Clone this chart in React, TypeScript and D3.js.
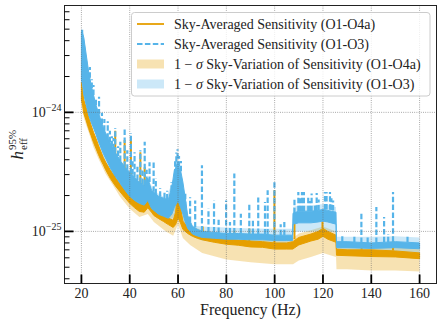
import * as d3 from "d3";
import { useEffect, useRef } from "react";

// all strain values are in units of 1e-25
const UNIT = 1e-25;

// O1-O4a sky-averaged curve, drawn as its noisy body (top / bottom edge)
const O4A_FREQ = [20, 20.5, 21, 22, 23, 24, 25, 26, 27, 28, 29, 30, 32, 34, 36, 38, 40, 42, 44, 46, 47.5, 49, 50, 52, 54, 56, 58, 59, 60, 61, 62, 64, 66, 68, 70, 75, 80, 85, 90, 95, 100, 105, 107.5, 110, 115, 118, 120, 122, 125.4, 125.6, 130, 140, 150, 160];
const O4A_TOP = [18.0, 15.4, 12.7, 10.9, 9.1, 7.8, 6.8, 6.07, 5.31, 4.72, 4.2, 3.82, 3.27, 2.85, 2.49, 2.22, 1.97, 1.82, 1.69, 1.69, 1.93, 1.72, 1.56, 1.45, 1.36, 1.29, 1.24, 1.45, 2.35, 1.6, 1.22, 1.08, 1.02, 0.98, 0.95, 0.9, 0.86, 0.845, 0.83, 0.82, 0.8, 0.8, 0.82, 0.89, 0.95, 1.0, 1.06, 1.0, 0.93, 0.71, 0.7, 0.7, 0.685, 0.66];
const O4A_BOTTOM = [12.7, 11.5, 9.8, 8.5, 7.3, 6.4, 5.6, 5.0, 4.45, 4.0, 3.65, 3.3, 2.78, 2.42, 2.15, 1.92, 1.72, 1.58, 1.47, 1.45, 1.58, 1.45, 1.36, 1.28, 1.21, 1.14, 1.08, 1.14, 1.3, 1.18, 1.04, 0.96, 0.91, 0.875, 0.85, 0.81, 0.78, 0.765, 0.74, 0.735, 0.71, 0.71, 0.71, 0.77, 0.83, 0.86, 0.91, 0.86, 0.81, 0.63, 0.625, 0.615, 0.61, 0.59];

// O1-O3 sky-averaged curve
const O3_FREQ = [20, 20.5, 21, 22, 23, 24, 25, 26, 27, 28, 29, 30, 32, 34, 36, 38, 40, 42, 44, 46, 47.5, 49, 50, 52, 54, 56, 57.5, 58.5, 60, 61, 62, 63, 64, 66, 68, 70, 75, 80, 85, 90, 95, 100, 105, 107.4, 107.6, 110, 115, 118, 120, 122, 125.4, 125.6, 130, 140, 150, 160];
const O3_TOP = [47, 46.6, 42.3, 30.4, 21.9, 17.0, 14.0, 11.5, 10.0, 8.6, 7.5, 6.7, 5.51, 4.63, 3.96, 3.46, 3.14, 2.85, 2.59, 2.44, 2.8, 2.22, 2.13, 1.97, 1.9, 1.85, 2.4, 3.3, 3.6, 3.3, 2.6, 1.9, 1.36, 1.1, 1.04, 1.0, 0.98, 0.96, 0.96, 0.95, 0.95, 0.93, 0.93, 0.93, 1.42, 1.48, 1.48, 1.5, 1.53, 1.5, 1.45, 0.82, 0.82, 0.8, 0.82, 0.8];
const O3_BOTTOM = [18.7, 17.0, 14.0, 11.5, 9.5, 8.3, 7.38, 6.55, 5.73, 5.1, 4.54, 4.12, 3.4, 2.9, 2.54, 2.22, 1.97, 1.82, 1.72, 1.66, 1.82, 1.56, 1.5, 1.39, 1.34, 1.29, 1.4, 1.6, 1.8, 1.6, 1.4, 1.2, 1.06, 0.95, 0.915, 0.89, 0.875, 0.86, 0.86, 0.85, 0.85, 0.84, 0.84, 0.84, 1.15, 1.18, 1.18, 1.2, 1.22, 1.2, 1.15, 0.73, 0.73, 0.72, 0.73, 0.715];

// narrow line features (frequency, foot, peak)
const O4A_SPIKE_FREQ = [34.0, 37.9, 40.5, 44.4, 46.2, 60.0, 70.2, 83.3, 89.5, 99.9, 108.2, 119.8, 136.0, 149.0];
const O4A_SPIKE_BASE = [2.85, 2.3, 1.95, 1.69, 1.69, 1.6, 0.95, 0.86, 0.83, 0.8, 0.86, 1.06, 0.7, 0.69];
const O4A_SPIKE_PEAK = [7.0, 5.85, 5.85, 4.63, 3.46, 2.5, 1.1, 1.02, 1.06, 2.22, 1.24, 1.2, 0.78, 0.9];

const O3_SPIKE_FREQ = [20.3, 23.5, 24.3, 25.0, 26.0, 27.3, 28.5, 29.5, 30.9, 31.8, 32.6, 33.3, 34.0, 35.2, 36.1, 37.9, 39.0, 40.5, 41.2, 42.0, 43.2, 44.4, 45.3, 46.2, 47.0, 48.2, 49.9, 50.8, 52.6, 54.4, 55.5, 57.3, 58.8, 59.3, 59.8, 60.4, 61.2, 63.0, 65.0, 67.1, 69.9, 72.6, 74.9, 76.8, 79.9, 81.5, 83.3, 86.0, 89.5, 91.0, 93.2, 96.0, 97.1, 99.9, 102.5, 104.0, 108.2, 109.8, 110.5, 111.3, 112.1, 113.9, 114.6, 115.3, 116.7, 117.4, 118.2, 120.8, 121.5, 122.9, 123.5, 124.2, 128.0, 133.0, 135.9, 138.5, 142.1, 145.3, 147.0, 149.0, 155.0];
const O3_SPIKE_BASE = [46, 19.5, 16, 14.0, 11.5, 9.6, 8.0, 7.0, 6.0, 5.6, 5.2, 4.9, 4.6, 4.3, 3.9, 3.5, 3.3, 3.1, 3.0, 2.85, 2.7, 2.55, 2.5, 2.45, 2.6, 2.6, 2.15, 2.05, 1.95, 1.9, 1.85, 2.2, 3.0, 3.3, 3.5, 3.5, 3.2, 1.6, 1.2, 1.08, 1.0, 0.98, 0.98, 0.97, 0.96, 0.96, 0.96, 0.96, 0.95, 0.95, 0.95, 0.94, 0.94, 0.93, 0.93, 0.93, 1.42, 1.48, 1.48, 1.48, 1.48, 1.48, 1.48, 1.48, 1.48, 1.49, 1.5, 1.53, 1.53, 1.52, 1.51, 1.5, 0.82, 0.81, 0.8, 0.8, 0.8, 0.81, 0.81, 0.82, 0.81];
const O3_SPIKE_PEAK = [49.4, 24, 19, 17.0, 13, 13.5, 9.9, 8.8, 8.4, 7.0, 6.3, 6.1, 7.4, 5.2, 5.65, 7.4, 4.8, 6.7, 4.0, 4.63, 3.5, 4.81, 3.4, 5.65, 3.3, 3.81, 3.81, 2.8, 2.3, 2.2, 2.2, 2.6, 4.0, 4.6, 4.9, 4.3, 3.9, 2.1, 1.94, 1.82, 3.6, 1.56, 1.82, 1.25, 1.82, 1.2, 3.07, 1.41, 1.72, 1.25, 1.93, 1.77, 2.22, 2.6, 1.15, 1.2, 1.9, 2.14, 1.9, 2.14, 2.14, 1.94, 1.8, 2.08, 1.7, 2.1, 1.85, 2.14, 2.14, 2.14, 1.9, 1.82, 0.95, 0.92, 1.46, 0.93, 1.6, 1.32, 0.95, 2.14, 0.92];

// 1-sigma sky variation bands
const BAND_FREQ = [20, 21, 22, 23, 25, 27, 30, 33, 36, 40, 44, 47.5, 50, 55, 58, 60, 62, 65, 70, 80, 90, 100, 107.4, 107.6, 110, 115, 120, 125.4, 125.6, 130, 140, 150, 160];
const O4A_BAND_LO = [11.5, 9.0, 7.8, 6.8, 5.1, 4.1, 3.05, 2.45, 1.95, 1.55, 1.32, 1.4, 1.2, 1.0, 0.92, 1.15, 0.88, 0.77, 0.66, 0.58, 0.55, 0.53, 0.53, 0.53, 0.57, 0.61, 0.66, 0.61, 0.48, 0.48, 0.47, 0.47, 0.46];
const O4A_BAND_HI = [19, 13.5, 11.2, 9.4, 7.0, 5.5, 3.9, 3.0, 2.55, 2.0, 1.75, 2.1, 1.7, 1.45, 1.4, 2.4, 1.35, 1.12, 1.02, 0.95, 0.91, 0.88, 0.88, 0.88, 0.96, 1.02, 1.1, 1.0, 0.79, 0.77, 0.77, 0.76, 0.74];
const O3_BAND_LO = [20, 20, 14, 11, 7.5, 5.5, 3.8, 2.9, 2.3, 1.8, 1.55, 1.6, 1.4, 1.2, 1.3, 1.6, 1.2, 0.92, 0.84, 0.8, 0.78, 0.77, 0.77, 1.0, 1.0, 1.0, 1.02, 0.98, 0.67, 0.66, 0.65, 0.66, 0.65];
const O3_BAND_HI = [50, 44, 31, 22.5, 14.5, 10.3, 6.9, 5.0, 4.0, 3.2, 2.65, 2.8, 2.2, 1.9, 2.7, 3.8, 2.3, 1.12, 1.1, 1.08, 1.06, 1.05, 1.05, 1.6, 1.65, 1.65, 1.7, 1.6, 0.9, 0.9, 0.9, 0.91, 0.89];

const X_TICKS = [20, 40, 60, 80, 100, 120, 140, 160];
const Y_MAJOR = [-24, -25];

const LEGEND_LINES = ["Sky-Averaged Sensitivity (O1-O4a)", "Sky-Averaged Sensitivity (O1-O3)"];
const LEGEND_BANDS = ["Sky-Variation of Sensitivity (O1-O4a)", "Sky-Variation of Sensitivity (O1-O3)"];

const WIDTH = 443;
const HEIGHT = 326;
const MARGIN = { top: 5.5, right: 6.5, bottom: 42.5, left: 64.5 };
const ORANGE = "#E69F00";
const BLUE = "#56B4E9";
const FONT = '"Liberation Serif", "Times New Roman", serif';

const App = () => {
  const svgRef = useRef<SVGSVGElement>(null);

  useEffect(() => {
    const svg = d3.select(svgRef.current);
    svg.selectAll("*").remove();

    const left = MARGIN.left;
    const right = WIDTH - MARGIN.right;
    const top = MARGIN.top;
    const bottom = HEIGHT - MARGIN.bottom;

    const x = d3.scaleLinear().domain([13, 167]).range([left, right]);
    const y = d3.scaleLog().domain([3.65e-26, 7.9e-24]).range([bottom, top]);

    const addText = (g: any, px: number, py: number, size: number) =>
      g
        .append("text")
        .attr("x", px)
        .attr("y", py)
        .attr("font-size", size)
        .attr("fill", "#222")
        .style("font-family", FONT);

    svg
      .append("defs")
      .append("clipPath")
      .attr("id", "plot-clip")
      .append("rect")
      .attr("x", left)
      .attr("y", top)
      .attr("width", right - left)
      .attr("height", bottom - top);

    const plot = svg.append("g").attr("clip-path", "url(#plot-clip)");

    const area = (freq: number[], lo: number[], hi: number[]) =>
      d3
        .area<number>()
        .x((f) => x(f))
        .y0((_, i) => y(lo[i] * UNIT))
        .y1((_, i) => y(hi[i] * UNIT))(freq);

    // sky variation bands
    plot.append("path").attr("d", area(BAND_FREQ, O4A_BAND_LO, O4A_BAND_HI)).attr("fill", ORANGE).attr("fill-opacity", 0.3);
    plot.append("path").attr("d", area(BAND_FREQ, O3_BAND_LO, O3_BAND_HI)).attr("fill", BLUE).attr("fill-opacity", 0.3);

    // grid
    const grid = svg.append("g").attr("stroke", "#666").attr("stroke-width", 0.7).attr("stroke-dasharray", "0.8,1.4");
    X_TICKS.forEach((t) => {
      grid.append("line").attr("x1", x(t)).attr("x2", x(t)).attr("y1", top).attr("y2", bottom);
    });
    Y_MAJOR.forEach((e) => {
      grid.append("line").attr("x1", left).attr("x2", right).attr("y1", y(10 ** e)).attr("y2", y(10 ** e));
    });

    const spikeLine = d3
      .line<[number, number]>()
      .x((d) => x(d[0]))
      .y((d) => y(d[1] * UNIT));

    // O1-O4a curve
    plot
      .append("path")
      .attr("d", area(O4A_FREQ, O4A_BOTTOM, O4A_TOP))
      .attr("fill", ORANGE)
      .attr("stroke", ORANGE)
      .attr("stroke-width", 1);
    O4A_SPIKE_FREQ.forEach((f, i) => {
      plot
        .append("path")
        .attr("d", spikeLine([[f, O4A_SPIKE_BASE[i]], [f, O4A_SPIKE_PEAK[i]]]))
        .attr("stroke", ORANGE)
        .attr("stroke-width", 2)
        .attr("fill", "none");
    });

    // O1-O3 curve
    plot
      .append("path")
      .attr("d", area(O3_FREQ, O3_BOTTOM, O3_TOP))
      .attr("fill", BLUE)
      .attr("stroke", BLUE)
      .attr("stroke-width", 1);
    O3_SPIKE_FREQ.forEach((f, i) => {
      plot
        .append("path")
        .attr("d", spikeLine([[f, O3_SPIKE_BASE[i]], [f, O3_SPIKE_PEAK[i]]]))
        .attr("stroke", BLUE)
        .attr("stroke-width", 2.2)
        .attr("stroke-dasharray", "5.5,2.4")
        .attr("fill", "none");
    });

    // frame
    svg
      .append("rect")
      .attr("x", left)
      .attr("y", top)
      .attr("width", right - left)
      .attr("height", bottom - top)
      .attr("fill", "none")
      .attr("stroke", "#222")
      .attr("stroke-width", 1);

    // x ticks
    const xt = svg.append("g");
    X_TICKS.forEach((t) => {
      xt.append("line").attr("x1", x(t)).attr("x2", x(t)).attr("y1", bottom).attr("y2", bottom - 9).attr("stroke", "#000").attr("stroke-width", 1.8);
      addText(xt, x(t), bottom + 14, 14).attr("text-anchor", "middle").text(t);
    });

    // y ticks (log)
    const yt = svg.append("g");
    [-26, -25, -24].forEach((e) => {
      for (let k = 2; k <= 9; k++) {
        const v = k * 10 ** e;
        if (v < y.domain()[0] || v > y.domain()[1]) continue;
        yt.append("line").attr("x1", left).attr("x2", left + 5).attr("y1", y(v)).attr("y2", y(v)).attr("stroke", "#000").attr("stroke-width", 1);
      }
    });
    Y_MAJOR.forEach((e) => {
      const py = y(10 ** e);
      yt.append("line").attr("x1", left).attr("x2", left + 9).attr("y1", py).attr("y2", py).attr("stroke", "#000").attr("stroke-width", 1.8);
      const label = addText(yt, left - 3, py + 5, 14).attr("text-anchor", "end");
      label.append("tspan").text("10");
      label.append("tspan").attr("dy", -6).attr("font-size", 10).text("\u2212" + -e);
    });

    // axis labels
    addText(svg, (left + right) / 2, 315, 16).attr("text-anchor", "middle").text("Frequency (Hz)");

    const yl = svg.append("g").attr("transform", `translate(23,${(top + bottom) / 2 + 15}) rotate(-90)`);
    addText(yl, 0, 0, 17).attr("font-style", "italic").text("h");
    addText(yl, 9.5, -7, 11).text("95%");
    addText(yl, 9.5, 4, 11).text("eff");

    // legend
    const lg = svg.append("g");
    lg.append("rect")
      .attr("x", 131.5)
      .attr("y", 12.5)
      .attr("width", 298.5)
      .attr("height", 83.5)
      .attr("rx", 3)
      .attr("fill", "#fff")
      .attr("fill-opacity", 0.8)
      .attr("stroke", "#ccc");
    const rows = [24, 44, 64, 84];
    lg.append("line").attr("x1", 137).attr("x2", 164).attr("y1", rows[0]).attr("y2", rows[0]).attr("stroke", ORANGE).attr("stroke-width", 1.8);
    lg.append("line").attr("x1", 137).attr("x2", 164).attr("y1", rows[1]).attr("y2", rows[1]).attr("stroke", BLUE).attr("stroke-width", 1.8).attr("stroke-dasharray", "5.5,2.4");
    lg.append("rect").attr("x", 137).attr("y", rows[2] - 4.5).attr("width", 27).attr("height", 9).attr("fill", ORANGE).attr("fill-opacity", 0.3);
    lg.append("rect").attr("x", 137).attr("y", rows[3] - 4.5).attr("width", 27).attr("height", 9).attr("fill", BLUE).attr("fill-opacity", 0.3);
    LEGEND_LINES.forEach((s, i) => {
      addText(lg, 174, rows[i] + 4.5, 14).text(s);
    });
    LEGEND_BANDS.forEach((s, i) => {
      const t = addText(lg, 174, rows[i + 2] + 4.5, 14);
      t.append("tspan").text("1 \u2212 ");
      t.append("tspan").attr("font-style", "italic").text("\u03c3");
      t.append("tspan").text(" " + s);
    });
  }, []);

  return <svg ref={svgRef} width={WIDTH} height={HEIGHT} style={{ position: "absolute", left: 0, top: 0 }}></svg>;
};

export default App;
